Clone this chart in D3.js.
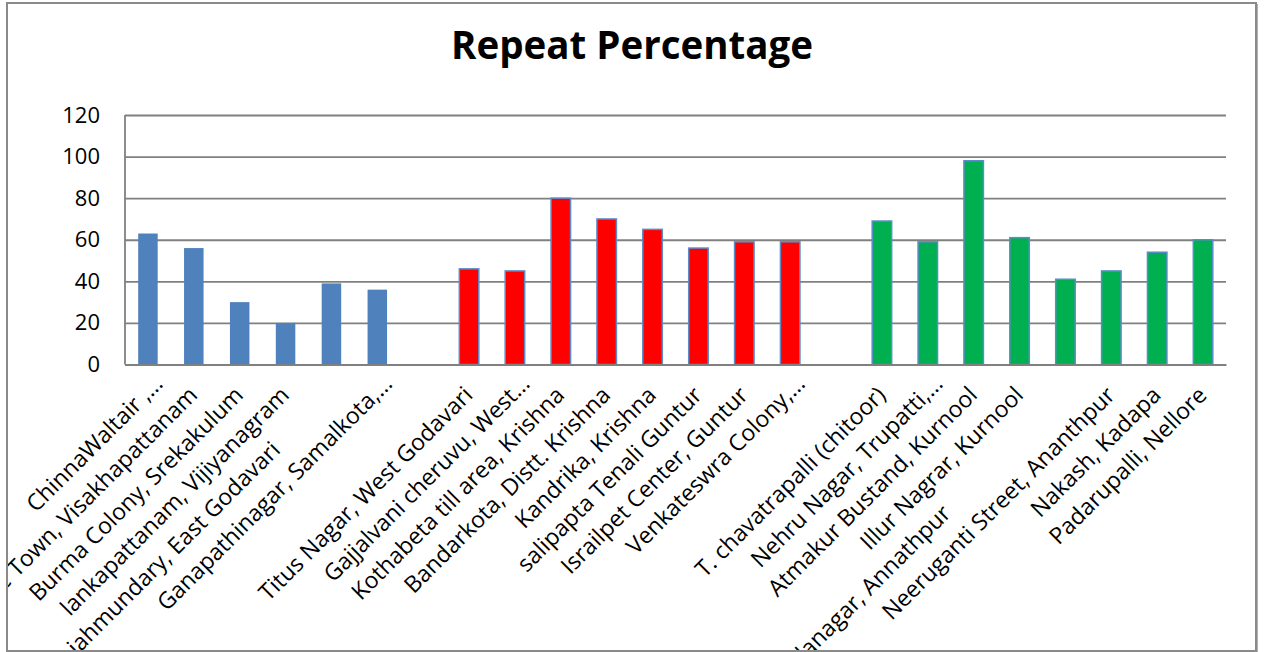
<!DOCTYPE html>
<html>
<head>
<meta charset="utf-8">
<script src="https://cdn.jsdelivr.net/npm/d3@7"></script>
<style>
  html, body { margin: 0; padding: 0; background: #fff; }
  svg { display: block; }
  .cat-label { white-space: pre; }
</style>
</head>
<body>
<svg id="chart" width="1264" height="652"></svg>
<script>
// Locations surveyed, grouped by region; empty entries are spacer slots between groups
const categories = [
  "ChinnaWaltair ,…",
  "One Town, Visakhapattanam",
  "Burma Colony, Srekakulum",
  "lankapattanam, Vijiyanagram",
  "Rajahmundary, East Godavari             ",
  "Ganapathinagar, Samalkota,…",
  "",
  "Titus Nagar, West Godavari",
  "Gajjalvani cheruvu, West…",
  "Kothabeta till area, Krishna",
  "Bandarkota, Distt. Krishna",
  "Kandrika, Krishna",
  "salipapta Tenali Guntur",
  "Israilpet Center, Guntur",
  "Venkateswra Colony,…",
  "",
  "T. chavatrapalli (chitoor)",
  "Nehru Nagar, Trupatti,…",
  "Atmakur Bustand, Kurnool",
  "Illur Nagrar, Kurnool",
  "Kamalanagar, Annathpur                            ",
  "Neeruganti Street, Ananthpur",
  "Nakash, Kadapa",
  "Padarupalli, Nellore"
];

// Repeat percentage per location (null = spacer)
const repeatPct = [
  63, 56, 30, 20, 39, 36,
  null,
  46, 45, 80, 70, 65, 56, 59, 59,
  null,
  69, 59, 98, 61, 41, 45, 54, 60
];

// Region group of each location (index into regionFill)
const regionOf = [
  0, 0, 0, 0, 0, 0,
  null,
  1, 1, 1, 1, 1, 1, 1, 1,
  null,
  2, 2, 2, 2, 2, 2, 2, 2
];

const regionFill = ["#4F81BD", "#FF0000", "#00B050"];
const regionStroke = ["#4F81BD", "#5B8BC9", "#5B8BC9"];

const yTicks = [0, 20, 40, 60, 80, 100, 120];
const chartTitle = "Repeat Percentage";

const svg = d3.select("#chart");
const plot = { left: 125, right: 1226, top: 115, bottom: 364.5 };

// Outer chart border
svg.append("rect")
  .attr("x", 7).attr("y", 3)
  .attr("width", 1249).attr("height", 648)
  .attr("fill", "#fff")
  .attr("stroke", "#8a8a8a")
  .attr("stroke-width", 2);
svg.append("line")
  .attr("x1", 1257.5).attr("x2", 1257.5).attr("y1", 4).attr("y2", 652)
  .attr("stroke", "#b0b0b0").attr("stroke-width", 1);

svg.append("defs").append("clipPath").attr("id", "chartClip")
  .append("rect").attr("x", 8).attr("y", 4).attr("width", 1247).attr("height", 646);

const x = d3.scaleBand()
  .domain(d3.range(categories.length))
  .range([plot.left, plot.right])
  .paddingInner(0.575)
  .paddingOuter(0.2875);

const y = d3.scaleLinear()
  .domain([0, 120])
  .range([plot.bottom, plot.top]);

// Title
svg.append("text")
  .attr("x", 632).attr("y", 59)
  .attr("text-anchor", "middle")
  .attr("font-family", "'Open Sans', sans-serif")
  .attr("font-weight", "bold")
  .attr("font-size", 38.5)
  .attr("fill", "#000")
  .text(chartTitle);

// Horizontal gridlines and value labels
const yAxis = d3.axisLeft(y).tickValues(yTicks).tickSize(-(plot.right - plot.left)).tickPadding(25);
const gy = svg.append("g")
  .attr("transform", `translate(${plot.left},0)`)
  .call(yAxis);
gy.select(".domain").remove();
gy.selectAll(".tick line").attr("stroke", "#808080").attr("stroke-width", 1.8);
gy.selectAll(".tick text")
  .attr("font-family", "'Open Sans', sans-serif")
  .attr("font-size", 22)
  .attr("fill", "#000");

// Vertical axis line
svg.append("line")
  .attr("x1", plot.left).attr("x2", plot.left)
  .attr("y1", plot.top).attr("y2", plot.bottom)
  .attr("stroke", "#808080").attr("stroke-width", 1.8);

// Bars
const data = categories.map((c, i) => ({ i, c, v: repeatPct[i], r: regionOf[i] }))
  .filter(d => d.v !== null);

svg.append("g").selectAll("rect")
  .data(data)
  .join("rect")
  .attr("x", d => x(d.i))
  .attr("y", d => y(d.v))
  .attr("width", x.bandwidth())
  .attr("height", d => y(0) - y(d.v))
  .attr("fill", d => regionFill[d.r])
  .attr("stroke", d => regionStroke[d.r])
  .attr("stroke-width", d => d.r === 0 ? 0 : 1.5);

// Category axis (no ticks), rotated labels
const gx = svg.append("g")
  .attr("transform", `translate(0,${plot.bottom})`)
  .call(d3.axisBottom(x).tickSize(0).tickFormat(""));
gx.select(".domain").attr("stroke", "#808080").attr("stroke-width", 1.8);

const labels = svg.append("g").attr("clip-path", "url(#chartClip)");
labels.selectAll("text")
  .data(categories.map((c, i) => ({ c, i })).filter(d => d.c !== ""))
  .join("text")
  .attr("class", "cat-label")
  .attr("transform", d => {
    const cx = x(d.i) + x.bandwidth() / 2;
    const shift = d.c.endsWith("…") ? 16 : 0;
    const ax = cx + 5 + shift * Math.SQRT1_2;
    const ay = plot.bottom + 32 - shift * Math.SQRT1_2;
    return `translate(${ax},${ay}) rotate(-45)`;
  })
  .attr("text-anchor", "end")
  .attr("font-family", "'Open Sans', sans-serif")
  .attr("font-size", 23)
  .attr("fill", "#000")
  .text(d => d.c);
</script>
</body>
</html>
